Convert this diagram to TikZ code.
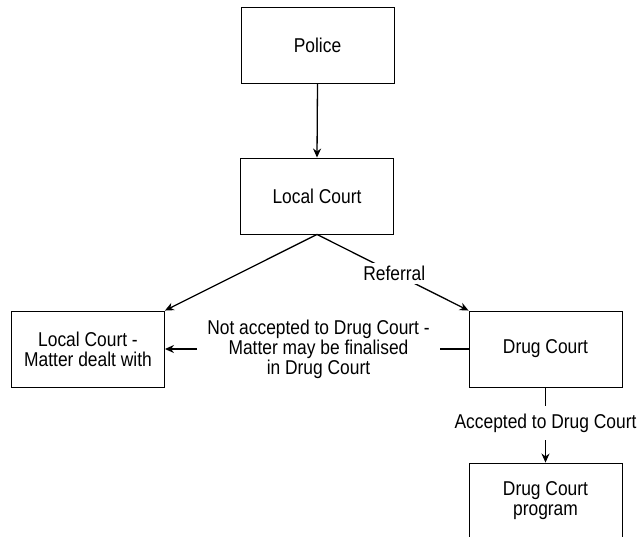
\documentclass[tikz,border=0pt]{standalone}
\usepackage{fontspec}
\setmainfont{Liberation Sans}[FakeStretch=0.87]
\usetikzlibrary{arrows.meta}
\begin{document}
\begin{tikzpicture}[x=1pt,y=-1pt,
  every node/.style={font=\fontsize{20}{20}\selectfont},
  box/.style={draw=black,line width=0.9pt,minimum width=153pt,minimum height=76pt,inner sep=0pt,align=center,fill=white},
  lbl/.style={fill=white,align=center,inner sep=3pt},
  conn/.style={draw=black,line width=1.3pt},
  arr/.style={conn,-{Stealth[length=9pt,width=8pt]}}]
\clip (0,0) rectangle (642,537);
\fill[white] (0,0) rectangle (642,537);
\node[box] (P) at (317.5,45) {Police};
\node[box] (LC) at (317,196) {Local Court};
\node[box] (LD) at (88,349) {Local Court -\\Matter dealt with};
\node[box] (DC) at (545.5,349) {Drug Court};
\node[box] (DP) at (545.5,501) {Drug Court\\program};
\node[lbl,inner xsep=10pt] (NA) at (318.5,349) {Not accepted to Drug Court -\\Matter may be finalised\\in Drug Court};
\node[lbl,inner ysep=7.5pt] (AC) at (545.5,423) {Accepted to Drug Court};
\draw[arr] (P.south) -- (LC.north);
\draw[arr] (LC.south) -- (LD.north east);
\draw[arr] (LC.south) -- node[lbl,pos=0.51] (RF) {Referral} (DC.north west);
\draw[conn] (DC.west) -- (NA.east);
\draw[arr] (NA.west) -- (LD.east);
\draw[conn] (DC.south) -- (AC.north);
\draw[arr] (AC.south) -- (DP.north);
\end{tikzpicture}
\end{document}
